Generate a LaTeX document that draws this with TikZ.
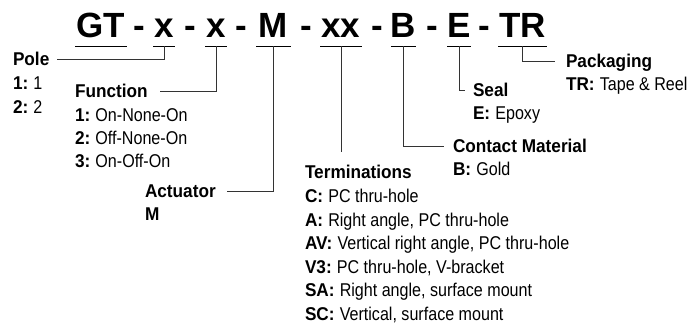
\documentclass[tikz,border=0pt]{standalone}
\usepackage{fontspec}
\setmainfont{Liberation Sans}
\newfontfamily\rgf{Liberation Sans}[FakeStretch=0.87]
\newfontfamily\bdf{Liberation Sans}[FakeStretch=0.93]
\newcommand\lbl[2]{{\bdf\bfseries #1}~{\rgf #2}}
\begin{document}
\begin{tikzpicture}[x=1bp,y=-1bp,
  every node/.style={inner sep=0pt, outer sep=0pt},
  ttl/.style={font=\fontsize{35bp}{36bp}\selectfont\bfseries, anchor=base},
  head/.style={font=\fontsize{18.5bp}{20bp}\selectfont\bdf\bfseries, anchor=base west, text height=12bp, text depth=0pt},
  item/.style={font=\fontsize{18.5bp}{20bp}\selectfont, anchor=base west},
  conn/.style={draw=black!80, line width=0.8bp},
  uline/.style={draw=black, line width=0.9bp}]
\fill[white] (0,0) rectangle (688,324);
\useasboundingbox (0,0) rectangle (688,324);

% title segments
\node[ttl, minimum width=52bp] (GT) at (101,37) {GT};
\node[ttl] (d1) at (139,37) {-};
\node[ttl, minimum width=22bp] (X1) at (164,37) {x};
\node[ttl] (d2) at (190,37) {-};
\node[ttl, minimum width=22bp] (X2) at (216,37) {x};
\node[ttl] (d3) at (241,37) {-};
\node[ttl, minimum width=35bp] (M) at (273.5,37) {M};
\node[ttl] (d4) at (306,37) {-};
\node[ttl, minimum width=42bp] (XX) at (341,37) {xx};
\node[ttl] (d5) at (377,37) {-};
\node[ttl, minimum width=24bp] (B) at (403.5,37) {B};
\node[ttl] (d6) at (432,37) {-};
\node[ttl, minimum width=22bp] (E) at (459,37) {E};
\node[ttl] (d7) at (484,37) {-};
\node[ttl, minimum width=49bp] (TR) at (522.5,37) {TR};

\foreach \s in {GT,X1,X2,M,XX,B,E,TR}{
  \draw[uline] ([yshift=-9bp]\s.base west) -- ([yshift=-9bp]\s.base east);
  \coordinate (u\s) at ([yshift=-9bp]\s.base);
}

% Pole
\node[head] (pole) at (13,65) {Pole};
\node[item] (pole1) at (13,89) {\lbl{1:}{1}};
\node[item] (pole2) at (13,113) {\lbl{2:}{2}};

% Function
\node[head] (func) at (75,97) {Function};
\node[item] (func1) at (75,121) {\lbl{1:}{On-None-On}};
\node[item] (func2) at (75,144) {\lbl{2:}{Off-None-On}};
\node[item] (func3) at (75,167) {\lbl{3:}{On-Off-On}};

% Actuator
\node[head] (act) at (145,197) {Actuator};
\node[item] (act1) at (145,220) {{\bdf\bfseries M}};

% Terminations
\node[head] (term) at (305,178.5) {Terminations};
\node[item] (term1) at (305,202.5) {\lbl{C:}{PC thru-hole}};
\node[item] (term2) at (305,226) {\lbl{A:}{Right angle, PC thru-hole}};
\node[item] (term3) at (305,249.5) {\lbl{AV:}{Vertical right angle, PC thru-hole}};
\node[item] (term4) at (305,273) {\lbl{V3:}{PC thru-hole, V-bracket}};
\node[item] (term5) at (305,296.5) {\lbl{SA:}{Right angle, surface mount}};
\node[item] (term6) at (305,320) {\lbl{SC:}{Vertical, surface mount}};
\coordinate (tend) at (341,152);

% Contact Material
\node[head] (cont) at (453,152) {Contact Material};
\node[item] (cont1) at (453,175) {\lbl{B:}{Gold}};

% Seal
\node[head] (seal) at (473,96) {Seal};
\node[item] (seal1) at (473,119) {\lbl{E:}{Epoxy}};

% Packaging
\node[head] (pack) at (566,67) {Packaging};
\node[item] (pack1) at (566,90) {\lbl{TR:}{Tape \& Reel}};

% connectors
\draw[conn, shorten >=8bp] (uX1) |- (pole.east);
\draw[conn, shorten >=12bp] (uX2) |- (func.east);
\draw[conn, shorten >=11bp] (uM) |- (act.east);
\draw[conn] (uXX) -- (tend);
\draw[conn, shorten >=9bp] (uB) |- (cont.west);
\draw[conn, shorten >=8bp] (uE) |- (seal.west);
\draw[conn, shorten >=11bp] (uTR) |- (pack.west);
\end{tikzpicture}
\end{document}
